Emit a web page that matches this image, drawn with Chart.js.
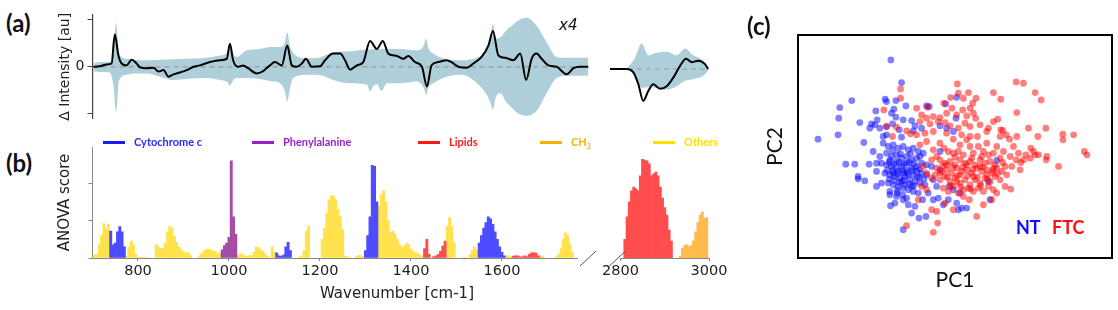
<!DOCTYPE html>
<html>
<head>
<meta charset="utf-8">
<title>Raman difference spectra, ANOVA scores and PCA</title>
<script src="https://cdn.jsdelivr.net/npm/chart.js@4.4.1/dist/chart.umd.min.js"></script>
<style>
  body { margin: 0; background: #fff; }
  #fig { position: relative; width: 1118px; height: 310px; overflow: hidden; font-family: Lato, "Open Sans", sans-serif; }
  #fig canvas, #fig .txt { position: absolute; }
  .panel { font-weight: bold; font-size: 24px; line-height: 1; color: #111; }
  .key { position: absolute; top: 135px; font: bold 11px Lato, sans-serif; line-height: 14px; white-space: nowrap; }
  .key i { display: inline-block; width: 22px; height: 3px; vertical-align: middle; margin-right: 9px; margin-top: -2px; }
  .key sub { font-size: 7px; }
</style>
</head>
<body>
<div id="fig">
  <canvas id="diffLow" width="550" height="130" style="left:50px;top:0"></canvas>
  <canvas id="diffHigh" width="118" height="130" style="left:600px;top:0"></canvas>
  <canvas id="anovaLow" width="550" height="180" style="left:50px;top:130px"></canvas>
  <canvas id="anovaHigh" width="140" height="180" style="left:600px;top:130px"></canvas>
  <canvas id="pca" width="378" height="310" style="left:740px;top:0"></canvas>

  <div class="txt panel" style="left:6px;top:11px">(a)</div>
  <div class="txt panel" style="left:6px;top:151px">(b)</div>
  <div class="txt panel" style="left:747px;top:14px">(c)</div>
  <div class="txt" style="left:559px;top:18px;font:italic 15px 'DejaVu Sans';line-height:1;color:#111">x4</div>

  <div class="key" style="left:103px;color:#2a2aff"><i style="background:#1a1aff"></i>Cytochrome c</div>
  <div class="key" style="left:252px;color:#9a1fcc"><i style="background:#9a1fcc"></i>Phenylalanine</div>
  <div class="key" style="left:418px;color:#ff1a1a"><i style="background:#ff1a1a"></i>Lipids</div>
  <div class="key" style="left:540px;color:#ffb000"><i style="background:#ffb000"></i>CH<sub>3</sub></div>
  <div class="key" style="left:653px;color:#ffe000"><i style="background:#ffe000"></i>Others</div>

  <div class="txt" style="left:0;width:794px;top:284px;text-align:center;font:15px 'DejaVu Sans';line-height:18px;color:#222">Wavenumber [cm-1]</div>

  <div class="txt" style="left:1016px;top:218px;font:bold 18px Lato;line-height:1;color:#1010ff">NT</div>
  <div class="txt" style="left:1052px;top:218px;font:bold 18px Lato;line-height:1;color:#ff1010">FTC</div>
</div>

<script>
  // ---- (a) mean difference spectrum and spread, fingerprint region ----
  const diffWn = [702, 716, 731, 742, 749, 757, 764, 775, 786, 797, 804, 819, 834, 845, 856, 867, 878, 892, 907, 922,
    936, 958, 980, 995, 1002, 1009, 1020, 1031, 1042, 1061, 1075, 1090, 1101, 1116, 1128, 1138, 1149, 1160, 1169, 1182,
    1200, 1211, 1229, 1244, 1255, 1266, 1281, 1295, 1310, 1325, 1338, 1350, 1369, 1383, 1394, 1409, 1424, 1435, 1445, 1460,
    1478, 1489, 1504, 1522, 1537, 1555, 1570, 1580, 1592, 1607, 1625, 1640, 1653, 1665, 1676, 1687, 1702, 1720, 1742, 1757,
    1771, 1790];
  const diffMean = [0, 0.01, 0.05, 0.07, 0.69, 0.24, 0.07, 0.03, 0.15, 0.07, -0.01, -0.03, -0.02, -0.10, -0.07, -0.21, -0.16, -0.12, -0.07, 0,
    0.03, 0.10, 0.14, 0.17, 0.49, 0.14, 0, 0.03, -0.03, -0.14, -0.09, 0.03, 0.10, 0.03, 0.45, 0.03, 0, 0.07, 0.17, 0,
    0.01, 0.14, 0.28, 0.28, 0.14, -0.06, 0.03, 0.10, 0.55, 0.38, 0.55, 0.28, 0.23, 0.17, 0.23, 0.10, 0, -0.42, 0.03, 0.10,
    0.14, 0.10, 0, -0.02, 0.07, 0.21, 0.45, 0.76, 0.24, 0.19, 0.14, 0.28, -0.28, 0.17, 0.28, 0.17, 0.03, 0, -0.16, -0.03,
    0, 0];
  const spreadWn = [702, 716, 738, 746, 752, 758, 775, 790, 819, 848, 878, 907, 951, 980, 996, 1002, 1008, 1017, 1039, 1068,
    1090, 1112, 1122, 1128, 1134, 1141, 1171, 1200, 1229, 1266, 1303, 1310, 1318, 1325, 1335, 1347, 1376, 1413, 1428, 1433,
    1438, 1449, 1478, 1508, 1537, 1566, 1574, 1580, 1586, 1596, 1610, 1625, 1632, 1654, 1676, 1698, 1720, 1742, 1790];
  const spreadUpper = [0.07, 0.10, 0.10, 0.30, 0.94, 0.30, 0.17, 0.15, 0.14, 0.15, 0.16, 0.17, 0.19, 0.24, 0.30, 0.49, 0.30, 0.21, 0.35, 0.38,
    0.42, 0.42, 0.50, 0.73, 0.45, 0.30, 0.18, 0.20, 0.31, 0.33, 0.37, 0.37, 0.38, 0.38, 0.38, 0.38, 0.38, 0.35, 0.45, 0.60,
    0.40, 0.28, 0.16, 0.14, 0.17, 0.38, 0.60, 0.92, 0.60, 0.62, 0.78, 0.90, 0.96, 1.04, 0.87, 0.52, 0.21, 0.19, 0.19];
  const spreadLower = [-0.10, -0.11, -0.12, -0.40, -0.94, -0.30, -0.17, -0.14, -0.14, -0.21, -0.28, -0.26, -0.24, -0.28, -0.32, -0.40, -0.30, -0.24, -0.24, -0.26,
    -0.30, -0.35, -0.50, -0.73, -0.45, -0.24, -0.17, -0.18, -0.28, -0.35, -0.38, -0.52, -0.40, -0.37, -0.51, -0.35, -0.35, -0.31, -0.45, -0.60,
    -0.45, -0.35, -0.21, -0.17, -0.28, -0.59, -0.75, -0.90, -0.65, -0.56, -0.76, -0.90, -0.97, -1.04, -0.94, -0.56, -0.24, -0.19, -0.19];

  // ---- (a) high wavenumber region (shown x4) ----
  const diffHighWn = [2780, 2817, 2832, 2843, 2854, 2865, 2876, 2891, 2906, 2921, 2936, 2949, 2962, 2976, 2991, 2998];
  const diffHighMean = [0, 0, -0.07, -0.31, -0.65, -0.45, -0.31, -0.40, -0.35, -0.17, 0.07, 0.21, 0.14, 0.17, 0.10, 0];
  const spreadHighWn = [2817, 2836, 2850, 2865, 2884, 2906, 2928, 2947, 2965, 2987, 2998];
  const spreadHighUpper = [0, 0.24, 0.52, 0.28, 0.33, 0.35, 0.28, 0.42, 0.28, 0.17, 0.03];
  const spreadHighLower = [0, -0.14, -0.38, -0.37, -0.38, -0.42, -0.35, -0.24, -0.21, -0.14, -0.03];
  const diffTicks = [-1, 0, 1];

  // ---- (b) ANOVA score per wavenumber bin, by band assignment ----
  const bandNames = ['Cytochrome c', 'Phenylalanine', 'Lipids', 'CH3', 'Others'];
  const cytochromeBins = [[740, 0.72], [745, 0.35], [750, 0.4], [755, 0.7], [760, 0.84], [765, 0.7], [770, 0.3],
    [1105, 0.14], [1110, 0.06], [1115, 0.05], [1120, 0.08], [1125, 0.3], [1130, 0.42], [1135, 0.2],
    [1300, 0.2], [1305, 0.6], [1310, 1.1], [1315, 2.48], [1320, 2.45], [1325, 1.5],
    [1550, 0.4], [1555, 0.6], [1560, 0.8], [1565, 0.95], [1570, 1.1], [1575, 1.05], [1580, 0.9], [1585, 0.7],
    [1590, 0.5], [1595, 0.3], [1600, 0.15], [1605, 0.06]];
  const phenylalanineBins = [[985, 0.22], [990, 0.33], [995, 0.4], [1000, 0.55], [1005, 2.6], [1010, 1.1], [1015, 0.63]];
  const lipidBins = [[1430, 0.25], [1435, 0.5], [1440, 0.1], [1450, 0.04], [1455, 0.06], [1460, 0.1], [1465, 0.18],
    [1470, 0.32], [1475, 0.45], [1625, 0.05], [1630, 0.06], [1635, 0.06], [1640, 0.03], [1645, 0.03], [1650, 0.06],
    [1655, 0.04], [1660, 0.1], [1665, 0.14], [1670, 0.14], [1675, 0.13], [1680, 0.06]];
  const otherBins = [[700, 0.05], [705, 0.08], [710, 0.1], [715, 0.35], [720, 0.6], [725, 0.92], [730, 0.77], [735, 0.9],
    [775, 0.05], [780, 0.3], [785, 0.45], [790, 0.35], [795, 0.1], [800, 0.02], [805, 0.02], [810, 0.02], [815, 0.02], [820, 0.02],
    [840, 0.36], [845, 0.3], [850, 0.26], [855, 0.25], [860, 0.4], [865, 0.7], [870, 0.84], [875, 0.8], [880, 0.58],
    [885, 0.42], [890, 0.3], [895, 0.24], [900, 0.16], [905, 0.12], [910, 0.15], [915, 0.08],
    [935, 0.06], [940, 0.12], [945, 0.18], [950, 0.23], [955, 0.24], [960, 0.22], [965, 0.2], [970, 0.17], [975, 0.14], [980, 0.12],
    [1020, 0.06], [1025, 0.12], [1030, 0.1], [1035, 0.06], [1040, 0.05], [1045, 0.06], [1050, 0.07], [1055, 0.15],
    [1060, 0.3], [1065, 0.27], [1070, 0.22], [1075, 0.18], [1080, 0.1], [1085, 0.03], [1095, 0.3], [1100, 0.15],
    [1155, 0.03], [1160, 0.05], [1165, 0.2], [1170, 0.72], [1175, 0.86],
    [1205, 0.5], [1210, 0.8], [1215, 1.2], [1220, 1.55], [1225, 1.67], [1230, 1.65], [1235, 1.55], [1240, 1.3],
    [1245, 1.1], [1250, 0.77], [1255, 0.05], [1260, 0.04], [1265, 0.02], [1280, 0.04], [1285, 0.07], [1290, 0.06], [1295, 0.05],
    [1330, 1.4], [1335, 1.7], [1340, 1.8], [1345, 1.5], [1350, 1.0], [1355, 0.68], [1360, 0.72], [1365, 0.65], [1370, 0.5],
    [1375, 0.36], [1380, 0.28], [1385, 0.32], [1390, 0.4], [1395, 0.36], [1400, 0.25], [1405, 0.18], [1410, 0.14],
    [1415, 0.12], [1420, 0.08], [1425, 0.05],
    [1480, 0.85], [1485, 1.08], [1490, 0.85], [1495, 0.4], [1515, 0.02], [1520, 0.02],
    [1530, 0.1], [1535, 0.2], [1540, 0.3], [1545, 0.22], [1610, 0.06], [1615, 0.06], [1620, 0.04], [1685, 0.06], [1690, 0.04],
    [1720, 0.04], [1725, 0.1], [1730, 0.25], [1735, 0.5], [1740, 0.67], [1745, 0.6], [1750, 0.35], [1755, 0.15]];
  const lipidHighBins = [[2810, 0.5], [2815, 1.1], [2820, 1.5], [2825, 1.8], [2830, 1.9], [2835, 1.85], [2840, 1.8],
    [2845, 2.2], [2850, 2.64], [2855, 2.62], [2860, 2.6], [2865, 2.52], [2870, 2.2], [2875, 2.25], [2880, 2.3],
    [2885, 2.2], [2890, 1.9], [2895, 1.6], [2900, 1.35], [2905, 1.15], [2910, 0.75], [2915, 0.45]];
  const ch3Bins = [[2935, 0.05], [2940, 0.25], [2945, 0.33], [2950, 0.36], [2955, 0.3], [2960, 0.33], [2965, 0.45],
    [2970, 0.7], [2975, 0.95], [2980, 1.15], [2985, 1.23], [2990, 1.06], [2995, 1.08]];
  const wnTicksLow = [800, 1000, 1200, 1400, 1600];
  const wnTicksHigh = [2800, 3000];
  const anovaTicks = [0, 1, 2];

  // ---- (c) PCA scores [PC1, PC2] ----
  const ntScores = [[-1.47, 2.70], [-1.15, 2.02], [-2.64, 1.48], [-3.00, 1.27], [-3.03, 0.95], [-3.65, 0.32], [-3.05, 0.45],
    [-1.64, 1.52], [-1.60, 1.45], [-1.32, 1.48], [-1.02, 1.32], [-1.92, 1.17], [-1.38, 1.22], [-1.45, 1.10], [-1.88, 0.90],
    [-2.40, 0.82], [-2.05, 0.78], [-2.10, 0.65], [-1.80, 0.65], [-1.95, 0.75], [-1.60, 0.70], [-1.42, 0.78], [-1.32, 0.98],
    [-1.10, 0.90], [-0.85, 0.88], [-0.75, 0.72], [-0.55, 0.65], [-0.80, 0.57], [-1.60, 0.45], [-1.22, 0.60], [-1.15, 0.38],
    [-1.70, 0.40], [-2.28, 0.22], [-2.00, -0.05], [-2.82, -0.43], [-2.55, -0.43], [-2.12, -0.43], [-1.90, -0.40],
    [-2.45, -0.80], [-2.45, -0.87], [-2.25, -0.93], [-1.90, -0.65], [-1.90, -1.10], [-1.75, -1.00], [-1.50, -1.35],
    [-1.48, -1.68], [-1.28, -1.30], [-1.10, -1.50], [-0.95, -1.65], [-0.75, -1.70], [-0.85, -1.90], [-0.63, -2.05],
    [-0.42, -2.00], [-1.10, -2.40], [0.50, 1.58], [0.48, 0.95], [0.17, 1.38], [-0.40, 1.32], [-0.32, 1.30], [0.00, 0.72],
    [0.20, 0.65], [0.40, 0.55], [0.00, -0.05], [0.28, -1.10], [0.40, -1.20], [0.50, -1.60], [0.55, -1.80], [0.65, -1.75],
    [0.80, -1.75], [1.50, -1.50], [1.45, -0.95], [1.70, -0.32], [0.00, -0.60],
    [-1.70, 0.20], [-1.55, 0.10], [-1.40, 0.15], [-1.25, 0.05], [-1.10, 0.10], [-0.95, 0.00], [-0.80, 0.05], [-0.65, -0.05],
    [-0.50, -0.10], [-1.60, -0.10], [-1.45, -0.20], [-1.30, -0.15], [-1.15, -0.25], [-1.00, -0.20], [-0.85, -0.30],
    [-0.70, -0.25], [-0.55, -0.40], [-0.40, -0.45], [-1.75, -0.40], [-1.60, -0.45], [-1.45, -0.50], [-1.30, -0.55],
    [-1.15, -0.50], [-1.00, -0.60], [-0.85, -0.55], [-0.70, -0.65], [-0.55, -0.70], [-0.40, -0.75], [-1.65, -0.70],
    [-1.50, -0.75], [-1.35, -0.80], [-1.20, -0.85], [-1.05, -0.80], [-0.90, -0.90], [-0.75, -0.95], [-0.60, -1.00],
    [-0.45, -1.05], [-1.55, -1.00], [-1.40, -1.05], [-1.25, -1.10], [-1.10, -1.15], [-0.95, -1.20], [-0.80, -1.25],
    [-0.65, -1.30], [-1.50, -1.25], [-1.30, -1.40], [-1.12, -1.35], [-1.00, -1.45], [-1.35, -1.60], [-1.15, -0.95],
    [-1.00, -0.40], [-1.30, -0.35], [-0.80, -0.75], [-0.20, -0.90], [-0.25, -0.50], [-0.10, -1.10], [-0.35, -1.30],
    [-0.52, -1.50], [-0.20, -1.50], [-0.05, -1.45], [0.10, -1.65], [0.25, -1.50], [0.60, -1.30], [-1.40, -0.70],
    [-1.10, -0.70], [-0.95, -0.75], [-1.25, -0.65], [-1.05, -1.05], [-0.85, -1.10], [-1.50, -0.30], [-0.70, -0.50],
    [-0.60, -0.20], [-1.80, -0.20],
    [-1.52, -0.38], [-1.38, -0.42], [-1.22, -0.38], [-1.08, -0.42], [-0.92, -0.38], [-0.78, -0.42], [-0.62, -0.58],
    [-1.58, -0.62], [-1.42, -0.62], [-1.28, -0.72], [-1.12, -0.62], [-0.98, -0.68], [-0.82, -0.62], [-0.68, -0.82],
    [-1.52, -0.88], [-1.38, -0.92], [-1.22, -0.98], [-1.08, -0.92], [-0.92, -1.02], [-0.78, -1.08], [-1.28, -1.22],
    [-1.18, -0.12], [-0.88, -0.12], [-1.42, -0.02], [-0.62, -0.82], [-0.48, -0.88]];
  const ftcScores = [[-1.18, 1.83], [-1.18, 1.55], [-1.68, 1.20], [-0.70, 1.25], [-0.37, 1.28], [0.52, 1.98], [0.55, 1.70],
    [0.85, 1.72], [0.32, 1.57], [0.70, 1.55], [1.08, 1.55], [0.98, 1.40], [0.12, 1.40], [0.36, 1.25], [0.68, 1.20],
    [0.90, 1.25], [1.00, 1.10], [0.50, 1.05], [0.80, 1.02], [1.07, 0.95], [1.60, 1.72], [1.82, 1.52], [2.28, 2.04],
    [2.50, 2.00], [2.85, 1.72], [3.03, 1.50], [2.30, 1.12], [1.73, 0.92], [1.60, 0.85], [1.45, 0.65], [1.82, 0.60],
    [1.98, 0.45], [1.88, 0.58], [1.80, 0.40], [2.30, 0.40], [2.65, 0.65], [2.93, 0.40], [3.17, 0.65], [3.68, 0.47],
    [4.00, 0.45], [3.68, 0.30], [4.32, -0.05], [4.40, -0.15], [3.20, -0.20], [3.18, -0.30], [3.55, -0.50], [2.85, -0.15],
    [2.72, 0.05], [2.57, -0.15], [2.42, -0.38], [2.40, -0.60], [2.20, 0.10], [2.08, 0.32], [2.12, -1.18], [1.95, -1.10],
    [1.70, -1.30], [1.55, -1.50], [1.30, -1.65], [1.10, -2.00], [0.88, -1.50], [0.70, -1.40], [0.40, -1.80], [0.15, -1.60],
    [-0.10, -1.85], [-0.07, -2.20], [-0.20, -2.48], [-1.00, -2.28], [-0.65, -1.50], [-0.25, -1.80], [-0.55, 1.05],
    [-0.40, 0.95], [-0.20, 1.00], [0.00, 0.97], [0.20, 1.10], [-0.60, 0.85], [-0.30, 0.78], [-0.05, 0.85], [0.15, 0.82],
    [0.30, 0.72], [0.55, 0.65], [0.75, 0.80], [0.90, 0.70], [1.20, 0.75], [1.40, 0.55], [1.12, 0.40], [0.90, 0.40],
    [0.65, 0.45], [0.40, 0.32], [0.20, 0.50], [-0.20, 0.55], [-0.45, 0.50], [-0.70, 0.45], [-0.88, 0.48], [-1.00, 0.57],
    [-1.60, 0.70], [-1.30, 0.68], [-1.42, 0.40], [0.00, 0.20], [0.12, 0.05], [0.25, -0.05], [-0.20, 0.00], [-0.40, 0.25],
    [-0.60, 0.15], [-0.25, -0.30], [-0.10, -0.20],
    [0.00, -0.30], [0.15, -0.40], [0.30, -0.35], [0.45, -0.45], [0.60, -0.30], [0.75, -0.40], [0.90, -0.35], [1.05, -0.45],
    [1.20, -0.30], [1.35, -0.40], [1.50, -0.35], [1.65, -0.45], [1.80, -0.25], [1.95, -0.50], [-0.10, -0.55], [0.05, -0.65],
    [0.20, -0.60], [0.35, -0.70], [0.50, -0.55], [0.65, -0.65], [0.80, -0.60], [0.95, -0.70], [1.10, -0.55], [1.25, -0.65],
    [1.40, -0.60], [1.55, -0.70], [1.70, -0.55], [1.85, -0.65], [0.00, -0.90], [0.15, -0.80], [0.30, -0.95], [0.45, -0.85],
    [0.60, -1.00], [0.75, -0.90], [0.90, -1.05], [1.05, -0.90], [1.20, -1.00], [1.35, -0.85], [1.50, -0.95], [1.65, -0.80],
    [1.80, -0.90], [0.10, -1.15], [0.25, -1.25], [0.40, -1.10], [0.55, -1.30], [0.70, -1.20], [0.85, -1.15], [1.00, -1.25],
    [1.15, -1.15], [1.30, -1.25], [1.45, -1.10], [1.60, -1.20], [0.40, -0.10], [0.55, -0.05], [0.70, -0.15], [1.00, -0.10],
    [1.30, -0.05], [1.45, -0.15], [1.60, -0.10], [1.90, -0.05], [2.10, -0.20], [2.00, -0.75], [2.15, -0.50], [-0.40, -0.70],
    [-0.25, -0.85], [-0.50, -0.50], [-0.55, -1.10], [-0.40, -1.20], [0.90, 0.10], [1.15, 0.10], [1.40, 0.20], [0.60, 0.15],
    [0.80, 0.30], [1.70, 0.10], [2.50, -0.30], [2.70, -0.25], [2.80, -0.05], [2.95, -0.15], [2.35, -0.10], [2.28, -0.30],
    [0.20, -0.45], [0.60, -0.75], [1.00, -0.80], [1.40, -0.75], [0.80, -0.45], [1.20, -0.50], [0.50, -0.95], [0.00, -0.70],
    [-0.15, -0.75], [1.60, -0.55],
    [0.08, -0.48], [0.38, -0.52], [0.68, -0.52], [0.98, -0.58], [1.28, -0.52], [1.58, -0.62], [0.22, -0.82], [0.52, -0.78],
    [0.82, -0.78], [1.12, -0.82], [1.42, -0.88], [0.32, -1.08], [0.62, -1.12], [0.92, -1.18], [1.22, -1.08], [1.72, -0.72],
    [1.88, -0.38], [0.45, -0.22], [0.95, -0.25], [1.25, -0.20]];

  Chart.defaults.font.family = '"DejaVu Sans", sans-serif';
  Chart.defaults.color = '#222';
  Chart.defaults.animation = false;
  Chart.defaults.responsive = false;
  Chart.defaults.plugins.legend.display = false;
  Chart.defaults.plugins.tooltip.enabled = false;

  const pairsOf = (xs, ys) => xs.map((x, i) => ({x, y: ys[i]}));
  const binsOf = list => list.map(([x, y]) => ({x, y}));
  const useTicks = values => scale => { scale.ticks = values.map(value => ({value})); };
  const fixWidth = w => s => { if (s.options.display) s.width = w; };
  const hidden = 'rgba(0,0,0,0)';

  // little slash at the broken end of the wavenumber axis
  const axisBreak = {
    id: 'axisBreak',
    afterDraw(chart, args, opts) {
      if (!opts.side) return;
      const {ctx, chartArea: a} = chart;
      const x = opts.side === 'end' ? a.right + 3 : a.left - 11;
      ctx.save();
      ctx.strokeStyle = '#555';
      ctx.lineWidth = 1;
      ctx.beginPath();
      ctx.moveTo(x, a.bottom + 8);
      ctx.lineTo(x + 16, a.bottom - 7);
      ctx.stroke();
      ctx.restore();
    }
  };

  // black frame round the score plot
  const frame = {
    id: 'frame',
    afterDraw(chart) {
      const {ctx, chartArea: a} = chart;
      ctx.save();
      ctx.strokeStyle = '#000';
      ctx.lineWidth = 2;
      ctx.strokeRect(a.left, a.top, a.right - a.left, a.bottom - a.top);
      ctx.restore();
    }
  };

  function diffChart(id, xRange, meanX, meanY, bandX, bandUp, bandLow, withAxis) {
    return new Chart(document.getElementById(id), {
      type: 'line',
      data: {
        datasets: [
          { label: 'mean difference', data: pairsOf(meanX, meanY), borderColor: '#000', borderWidth: 2,
            pointRadius: 0, cubicInterpolationMode: 'monotone' },
          { label: 'zero', data: xRange.map(x => ({x, y: 0})), borderColor: '#9a9a9a', borderWidth: 1.2,
            borderDash: [5, 4], pointRadius: 0 },
          { label: 'upper', data: pairsOf(bandX, bandUp), borderColor: hidden, backgroundColor: hidden,
            borderWidth: 0, pointRadius: 0, cubicInterpolationMode: 'monotone' },
          { label: 'lower', data: pairsOf(bandX, bandLow), borderColor: hidden, backgroundColor: '#aecfd9',
            borderWidth: 0, pointRadius: 0, cubicInterpolationMode: 'monotone', fill: '-1' }
        ]
      },
      options: {
        layout: { padding: withAxis ? {left: 0, right: 11.5, top: 15, bottom: 7} : {left: 10, right: 9, top: 15, bottom: 7} },
        scales: {
          x: { type: 'linear', display: false, min: xRange[0], max: xRange[1] },
          y: {
            display: withAxis, min: -1.1, max: 1.1,
            afterFit: fixWidth(42.5),
            afterBuildTicks: useTicks(diffTicks),
            ticks: { callback: v => (v === 0 ? '0' : ''), font: {size: 14}, color: '#222', padding: 3 },
            grid: { drawOnChartArea: false, tickLength: 5, color: '#444' },
            border: { color: '#444', width: 1.2 },
            title: { display: true, text: 'Δ Intensity [au]', font: {size: 14}, color: '#222', padding: {top: 7} }
          }
        }
      }
    });
  }

  function anovaChart(id, xRange, groups, xTicks, withYAxis, breakSide, pad) {
    return new Chart(document.getElementById(id), {
      type: 'bar',
      data: {
        datasets: groups.map(g => ({ label: g.name, data: binsOf(g.bins), backgroundColor: g.color }))
      },
      options: {
        datasets: { bar: { grouped: false, barPercentage: 1, categoryPercentage: 1, borderWidth: 0 } },
        layout: { padding: pad },
        plugins: { axisBreak: { side: breakSide } },
        scales: {
          x: {
            type: 'linear', min: xRange[0], max: xRange[1], offset: false,
            afterFit: s => { s.height = 52; },
            afterBuildTicks: useTicks(xTicks),
            ticks: { callback: v => String(v), font: {size: 14.5}, color: '#222', padding: 2, autoSkip: false, maxRotation: 0 },
            grid: { offset: false, drawOnChartArea: false, tickLength: 3, color: '#888' },
            border: { color: '#888' }
          },
          y: {
            display: withYAxis, min: 0, max: 2.97,
            afterFit: fixWidth(42.5),
            afterBuildTicks: useTicks(anovaTicks),
            ticks: { display: false },
            grid: { drawOnChartArea: false, tickLength: 4, color: '#888' },
            border: { color: '#888' },
            title: { display: true, text: 'ANOVA score', font: {size: 15}, color: '#222', padding: {top: 6} }
          }
        }
      },
      plugins: [axisBreak]
    });
  }

  diffChart('diffLow', [700, 1790], diffWn, diffMean, spreadWn, spreadUpper, spreadLower, true);
  diffChart('diffHigh', [2780, 3000], diffHighWn, diffHighMean, spreadHighWn, spreadHighUpper, spreadHighLower, false);

  anovaChart('anovaLow', [700, 1765], [
    { name: bandNames[0], bins: cytochromeBins, color: '#4d4dff' },
    { name: bandNames[1], bins: phenylalanineBins, color: '#a64ca6' },
    { name: bandNames[2], bins: lipidBins, color: '#ff4d4d' },
    { name: bandNames[4], bins: otherBins, color: '#ffe24d' }
  ], wnTicksLow, true, 'end', {left: 0, right: 23, top: 17, bottom: 0});

  anovaChart('anovaHigh', [2800, 3000], [
    { name: bandNames[2], bins: lipidHighBins, color: '#ff4d4d' },
    { name: bandNames[3], bins: ch3Bins, color: '#ffbb4d' }
  ], wnTicksHigh, false, 'start', {left: 19, right: 31, top: 17, bottom: 0});

  new Chart(document.getElementById('pca'), {
    type: 'scatter',
    data: {
      datasets: [
        { label: 'FTC', data: binsOf(ftcScores), backgroundColor: 'rgba(255,0,0,0.5)', borderWidth: 0, pointRadius: 3.4 },
        { label: 'NT', data: binsOf(ntScores), backgroundColor: 'rgba(0,0,255,0.5)', borderWidth: 0, pointRadius: 3.4 }
      ]
    },
    options: {
      layout: { padding: {left: 0, right: 6, top: 35, bottom: 0} },
      scales: {
        x: {
          min: -4.25, max: 5.15,
          afterFit: s => { s.height = 52; },
          ticks: { display: false }, grid: { display: false }, border: { display: false },
          title: { display: true, text: 'PC1', font: {family: 'Lato', size: 21}, color: '#111', padding: {bottom: 17.4} }
        },
        y: {
          min: -3.25, max: 3.45,
          afterFit: fixWidth(58),
          ticks: { display: false }, grid: { display: false }, border: { display: false },
          title: { display: true, text: 'PC2', font: {family: 'Lato', size: 21}, color: '#111', padding: {top: 22.4} }
        }
      }
    },
    plugins: [frame]
  });
</script>
</body>
</html>
